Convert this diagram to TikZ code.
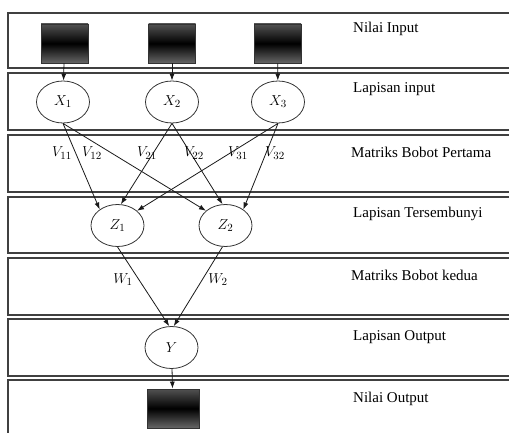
\documentclass[tikz,border=0pt]{standalone}
\usepackage{fontspec}
\setmainfont{Liberation Serif}
\usetikzlibrary{arrows.meta,shapes.geometric}
\begin{document}
\begin{tikzpicture}[x=1pt,y=-1pt,
  rowbox/.style={draw=black!75,line width=1.2pt},
  unit/.style={draw=black!80,line width=0.8pt,ellipse,minimum width=53pt,minimum height=42pt,inner sep=0pt,font=\fontsize{15}{17}\selectfont},
  datum/.style={draw=black!80,line width=0.8pt,rectangle,minimum width=47pt,minimum height=39pt,inner sep=0pt,
    top color=black!68,bottom color=black!60,middle color=black},
  layertext/.style={anchor=base west,inner sep=0pt,font=\fontsize{15}{18}\selectfont},
  wlabel/.style={anchor=base,inner sep=0pt,font=\fontsize{15}{17}\selectfont},
  link/.style={draw=black!90,line width=0.8pt,-{Latex[length=7pt,width=5pt]}}
]
\useasboundingbox (0,0) rectangle (509,433);

% layer bands
\draw[rowbox] (8,13)  rectangle (520,68);
\draw[rowbox] (8,73)  rectangle (520,130);
\draw[rowbox] (8,135) rectangle (520,192);
\draw[rowbox] (8,197) rectangle (520,253);
\draw[rowbox] (8,258) rectangle (520,315);
\draw[rowbox] (8,319) rectangle (520,376);
\draw[rowbox] (8,380) rectangle (520,445);

% layer names
\node[layertext] (t1) at (353,33)  {Nilai Input};
\node[layertext] (t2) at (353,93)  {Lapisan input};
\node[layertext] (t3) at (351,158) {Matriks Bobot Pertama};
\node[layertext] (t4) at (353,217) {Lapisan Tersembunyi};
\node[layertext] (t5) at (351,280) {Matriks Bobot kedua};
\node[layertext] (t6) at (353,340) {Lapisan Output};
\node[layertext] (t7) at (353,402) {Nilai Output};

% input values
\node[datum] (in1) at (64.5,43.5)  {};
\node[datum] (in2) at (172,43.5)   {};
\node[datum] (in3) at (277.5,43.5) {};

% input layer
\node[unit] (X1) at (63,102)  {$X_1$};
\node[unit] (X2) at (172,102) {$X_2$};
\node[unit] (X3) at (278,102) {$X_3$};

% hidden layer
\node[unit] (Z1) at (117.5,225.5) {$Z_1$};
\node[unit] (Z2) at (225.5,225.5) {$Z_2$};

% output layer
\node[unit] (Y) at (171.5,347.5) {$Y$};
\node[datum,minimum width=52pt] (out) at (173,408.5) {};

% connections
\draw[link] (in1) -- (X1);
\draw[link] (in2) -- (X2);
\draw[link] (in3) -- (X3);

\draw[link] (X1.south) -- (Z1.138);
\draw[link] (X1.south) -- (Z2.143);
\draw[link] (X2.south) -- (Z1.81);
\draw[link] (X2.south) -- (Z2.98);
\draw[link] (X3.south) -- (Z1.37);
\draw[link] (X3.south) -- (Z2.42);

\draw[link] (Z1.south) -- (Y.96);
\draw[link] (Z2.262) -- (Y.84);

\draw[link] (Y) -- (out);

% weights
\node[wlabel] (v11) at (62,157)  {$V_{11}$};
\node[wlabel] (v12) at (92,157)  {$V_{12}$};
\node[wlabel] (v21) at (147,157) {$V_{21}$};
\node[wlabel] (v22) at (194,157) {$V_{22}$};
\node[wlabel] (v31) at (238,157) {$V_{31}$};
\node[wlabel] (v32) at (275,157) {$V_{32}$};
\node[wlabel] (w1) at (123,283) {$W_1$};
\node[wlabel] (w2) at (218,283) {$W_2$};
\end{tikzpicture}
\end{document}
